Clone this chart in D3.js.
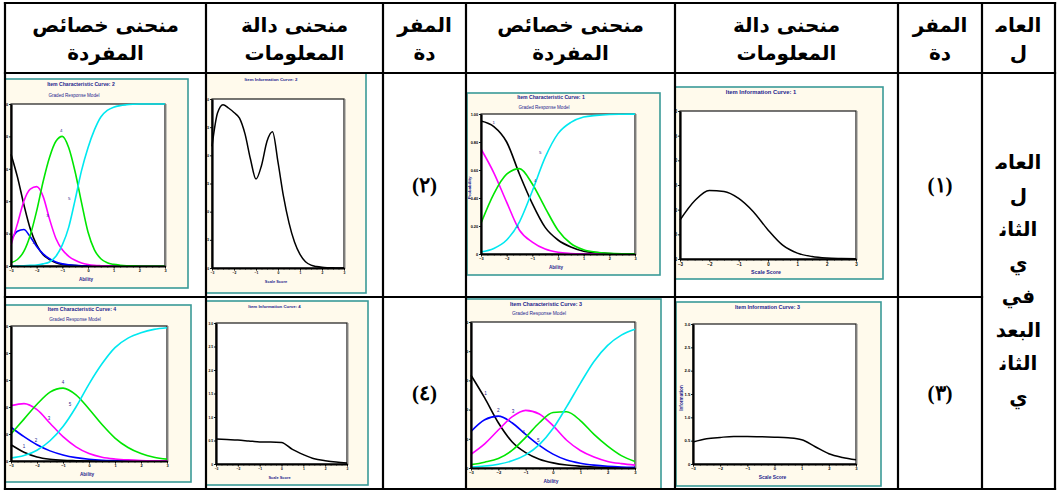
<!DOCTYPE html>
<html>
<head>
<meta charset="utf-8">
<script src="https://cdn.jsdelivr.net/npm/d3@7"></script>
<style>
  body { margin: 0; background: #ffffff; }
  svg { display: block; }
</style>
</head>
<body>
<script>
// ---------- data ----------
const thetaFine   = [-3,-2.75,-2.5,-2.25,-2,-1.75,-1.5,-1.25,-1,-0.75,-0.5,-0.25,0,0.25,0.5,0.75,1,1.25,1.5,1.75,2,2.25,2.5,2.75,3];
const thetaCoarse = [-3,-2.5,-2,-1.5,-1,-0.5,0,0.5,1,1.5,2,2.5,3];

const categories = ["1","2","3","4","5"];

// item 1 — category response probabilities (coarse grid)
const item1Cat1 = [.95,.91,.80,.57,.36,.19,.10,.05,.02,.01,.004,.002,.001];
const item1Cat3 = [.75,.58,.37,.17,.085,.035,.012,.004,.001,0,0,0,0];
const item1Cat4 = [.22,.43,.57,.61,.50,.33,.17,.075,.03,.012,.005,.002,.001];
const item1Cat5 = [.015,.04,.10,.23,.45,.69,.86,.94,.978,.99,.996,.998,.999];

// item 2 (fine grid)
const item2Cat1 = [.69,.55,.38,.23,.13,.07,.04,.02,.01,.006,.003,.001,0,0,0,0,0,0,0,0,0,0,0,0,0];
const item2Cat2 = [.16,.215,.225,.18,.12,.075,.045,.025,.013,.007,.004,.002,.001,0,0,0,0,0,0,0,0,0,0,0,0];
const item2Cat3 = [.13,.26,.40,.475,.49,.43,.29,.17,.10,.06,.035,.018,.009,.004,.002,.001,0,0,0,0,0,0,0,0,0];
const item2Cat4 = [.02,.04,.09,.19,.34,.52,.67,.77,.80,.73,.58,.39,.21,.10,.045,.02,.01,.005,.002,.001,0,0,0,0,0];
const item2Cat5 = [0,0,.002,.004,.006,.013,.025,.06,.13,.24,.41,.59,.73,.84,.92,.96,.98,.99,.995,.998,1,1,1,1,1];

// item 3 (coarse grid)
const item3Cat1 = [.635,.48,.31,.18,.105,.06,.035,.02,.012,.007,.004,.002,.001];
const item3Cat2 = [.25,.33,.355,.31,.23,.155,.095,.055,.033,.02,.012,.007,.004];
const item3Cat3 = [.094,.165,.26,.35,.395,.37,.29,.19,.12,.075,.045,.03,.02];
const item3Cat4 = [.023,.04,.065,.12,.21,.31,.38,.385,.325,.23,.15,.085,.045];
const item3Cat5 = [.007,.0135,.026,.049,.09,.16,.27,.42,.58,.73,.84,.91,.95];

// item 4 (coarse grid)
const item4Cat1 = [.12,.065,.03,.013,.005,.002,0,0,0,0,0,0,0];
const item4Cat2 = [.25,.18,.12,.075,.045,.025,.013,.006,.003,.001,0,0,0];
const item4Cat3 = [.41,.425,.38,.28,.18,.105,.055,.028,.015,.008,.004,.002,.001];
const item4Cat4 = [.20,.31,.42,.51,.54,.49,.385,.27,.17,.10,.055,.028,.014];
const item4Cat5 = [.022,.04,.08,.15,.255,.40,.57,.72,.84,.91,.95,.975,.987];

// item information
const item1Info = [.79,1.18,1.39,1.37,1.23,.96,.59,.28,.12,.05,.02,.01,.005];
const item2Info = [2.16,2.75,2.90,2.84,2.76,2.66,2.38,1.93,1.58,1.82,2.25,2.42,1.88,1.27,.80,.46,.24,.11,.05,.025,.012,.006,.003,.001,0];
const item3Info = [.47,.54,.57,.59,.59,.585,.575,.56,.52,.37,.22,.14,.09];
const item4Info = [.53,.52,.51,.49,.47,.47,.46,.31,.20,.11,.07,.04,.02];

const xTicks     = [-3,-2,-1,0,1,2,3];
const probTicks  = [0,.2,.4,.6,.8,1];
const infoTicks  = [0,.5,1,1.5,2,2.5,3];

// table text
const headerCols = [
  ["منحنى خصائص","المفردة"],
  ["منحنى دالة","المعلومات"],
  ["المفر","دة"],
  ["منحنى خصائص","المفردة"],
  ["منحنى دالة","المعلومات"],
  ["المفر","دة"],
  ["العام\u200D","ل"]
];
const itemLabels = ["(٢)","(٤)","(١)","(٣)"];
const factorLines = ["العام\u200D","ل","الثان\u200D","ي","في","البعد","الثان\u200D","ي"];

// ---------- layout ----------
const W = 1058, H = 491;
const colX = [5, 206, 383, 466, 675, 898, 982, 1055];
const rowY = [3, 73, 297, 489];

const catColor = d3.scaleOrdinal(categories, ["#000000","#0000ff","#ff00ff","#00e600","#00e8f0"]);
const NAVY = "#24248c";
const SANS = "'Liberation Sans', Arial, sans-serif";

const panels = [
  { item: 2, kind: "icc", col: 0, row: 1, theta: thetaFine,
    series: [["1",item2Cat1],["2",item2Cat2],["3",item2Cat3],["4",item2Cat4],["5",item2Cat5]],
    plot: [11,165,104,266], box: [-3,188,79,288], titleY: 84, subY: 95, yTitle: false,
    labels: [["2",4,-3,-3],["3",6,-2,-2],["4",8,-1,-4],["5",10,-6,0]] },
  { item: 2, kind: "info", col: 1, row: 1, theta: thetaFine, info: item2Info,
    plot: [212,344,99,268], box: [195,366,72,293], titleY: 79, yTitle: false },
  { item: 1, kind: "icc", col: 3, row: 1, theta: thetaCoarse,
    series: [["1",item1Cat1],["3",item1Cat3],["4",item1Cat4],["5",item1Cat5]],
    plot: [481,635,114,254], box: [467,660,93,275], titleY: 97, subY: 107, yTitle: true,
    labels: [["1",1,0,-3],["3",3,-2,-2],["4",4,3,-2],["5",5,-5,-3]] },
  { item: 1, kind: "info", col: 4, row: 1, theta: thetaCoarse, info: item1Info,
    plot: [680,856,111,259], box: [663,883,87,279], titleY: 92, yTitle: false },
  { item: 4, kind: "icc", col: 0, row: 2, theta: thetaCoarse,
    series: [["1",item4Cat1],["2",item4Cat2],["3",item4Cat3],["4",item4Cat4],["5",item4Cat5]],
    plot: [11,167,326,461], box: [-3,191,305,482], titleY: 309, subY: 319, yTitle: false,
    labels: [["1",1,0,-4],["2",2,-1,-3],["3",3,-1,-3],["4",4,0,-4],["5",5,-6,-1]] },
  { item: 4, kind: "info", col: 1, row: 2, theta: thetaCoarse, info: item4Info,
    plot: [216,347,323,464], box: [199,368,301,485], titleY: 306, yTitle: false },
  { item: 3, kind: "icc", col: 3, row: 2, theta: thetaCoarse,
    series: [["1",item3Cat1],["2",item3Cat2],["3",item3Cat3],["4",item3Cat4],["5",item3Cat5]],
    plot: [471,635,322,468], box: [457,661,299,489], titleY: 304, subY: 313, yTitle: false,
    labels: [["1",1,1,-3],["2",2,0,-4],["3",3,1,-4],["4",4,-2,-3],["5",5,-1,-3]] },
  { item: 3, kind: "info", col: 4, row: 2, theta: thetaCoarse, info: item3Info,
    plot: [693,856,324,464], box: [676,881,302,486], titleY: 307, yTitle: true }
];

// ---------- drawing ----------
const svg = d3.select("body").append("svg")
  .attr("width", W).attr("height", H)
  .attr("viewBox", `0 0 ${W} ${H}`);

const defs = svg.append("defs");

panels.forEach((p, i) => {
  const cx0 = colX[p.col] + 1, cx1 = colX[p.col + 1] - 1;
  const cy0 = rowY[p.row] + 1, cy1 = rowY[p.row + 1] - 1;
  const clipId = "cell" + i;
  defs.append("clipPath").attr("id", clipId)
    .append("rect").attr("x", cx0).attr("y", cy0).attr("width", cx1 - cx0).attr("height", cy1 - cy0);

  const g = svg.append("g").attr("clip-path", `url(#${clipId})`);
  const [x0, x1, y0, y1] = p.plot;
  const [bx0, bx1, by0, by1] = p.box;
  const k = (x1 - x0) / 154;
  const mid = (x0 + x1) / 2;

  // picture frame
  g.append("rect")
    .attr("x", bx0).attr("y", by0).attr("width", bx1 - bx0).attr("height", by1 - by0)
    .attr("fill", "#fffaec").attr("stroke", "#3a9a98").attr("stroke-width", 1.6);

  // titles
  const title = p.kind === "icc" ? `Item Characteristic Curve: ${p.item}` : `Item Information Curve: ${p.item}`;
  g.append("text").attr("x", mid - 7).attr("y", p.titleY)
    .attr("text-anchor", "middle").attr("dominant-baseline", "central")
    .attr("font-family", SANS).attr("font-weight", "bold").attr("font-size", 5.1 * k)
    .attr("fill", NAVY).text(title);
  if (p.kind === "icc") {
    g.append("text").attr("x", mid - 14).attr("y", p.subY)
      .attr("text-anchor", "middle").attr("dominant-baseline", "central")
      .attr("font-family", SANS).attr("font-size", 4.6 * k)
      .attr("fill", NAVY).text("Graded Response Model");
  }

  // scales
  const x = d3.scaleLinear().domain([-3, 3]).range([x0, x1]);
  const y = d3.scaleLinear().domain(p.kind === "icc" ? [0, 1] : [0, 3]).range([y1, y0]);

  // plot area
  g.append("rect").attr("x", x0).attr("y", y0).attr("width", x1 - x0).attr("height", y1 - y0)
    .attr("fill", "#ffffff").attr("stroke", "#1a1a1a").attr("stroke-width", 1.2);
  g.append("line").attr("x1", x1 + 1).attr("x2", x1 + 1).attr("y1", y0).attr("y2", y1 + 1)
    .attr("stroke", "#8a8a8a").attr("stroke-width", 1);

  // curves
  const line = d3.line()
    .x((d, j) => x(p.theta[j]))
    .y(d => y(d))
    .curve(d3.curveMonotoneX);

  if (p.kind === "icc") {
    p.series.forEach(([cat, vals]) => {
      g.append("path").attr("d", line(vals))
        .attr("fill", "none").attr("stroke", catColor(cat))
        .attr("stroke-width", 1.6).attr("stroke-linejoin", "round");
    });
    const lookup = new Map(p.series);
    p.labels.forEach(([cat, j, dx, dy]) => {
      const vals = lookup.get(cat);
      g.append("text")
        .attr("x", x(p.theta[j]) + dx).attr("y", y(vals[j]) + dy)
        .attr("text-anchor", "middle")
        .attr("font-family", SANS).attr("font-size", 4.4 * k)
        .attr("fill", NAVY).text(cat);
    });
  } else {
    g.append("path").attr("d", line(p.info))
      .attr("fill", "none").attr("stroke", "#000")
      .attr("stroke-width", 1.5).attr("stroke-linejoin", "round");
  }

  // axes
  const minor = d3.range(-3, 3.0001, 0.25);
  g.append("g").attr("transform", `translate(0,${y1})`)
    .call(d3.axisBottom(x).tickValues(minor).tickSize(1.6).tickSizeOuter(0).tickFormat(""))
    .call(a => a.select(".domain").remove())
    .selectAll("line").attr("stroke-width", 0.7);

  const gx = g.append("g").attr("transform", `translate(0,${y1})`)
    .call(d3.axisBottom(x).tickValues(xTicks).tickSize(2.6).tickSizeOuter(0).tickPadding(0.8)
      .tickFormat(d3.format("d")));
  gx.attr("font-family", SANS).attr("font-size", 3.9 * k).attr("font-weight", "bold");
  gx.select(".domain").attr("stroke-width", 2.2);
  gx.selectAll(".tick line").attr("stroke-width", 0.9);

  const yFmt = p.kind === "icc"
    ? (d => d === 0 ? "0" : d3.format(".2f")(d))
    : (d => d === 0 ? "0" : d3.format(".1f")(d));
  const gy = g.append("g").attr("transform", `translate(${x0},0)`)
    .call(d3.axisLeft(y).tickValues(p.kind === "icc" ? probTicks : infoTicks)
      .tickSize(2).tickSizeOuter(0).tickPadding(0.8).tickFormat(yFmt));
  gy.attr("font-family", SANS).attr("font-size", 3.9 * k).attr("font-weight", "bold");
  gy.select(".domain").attr("stroke-width", 2.2);
  gy.selectAll(".tick line").attr("stroke-width", 0.9);

  // axis titles
  g.append("text").attr("x", mid - 2).attr("y", y1 + 13)
    .attr("text-anchor", "middle").attr("dominant-baseline", "central")
    .attr("font-family", SANS).attr("font-weight", "bold").attr("font-size", 4.6 * k)
    .attr("fill", NAVY).text(p.kind === "icc" ? "Ability" : "Scale Score");
  if (p.yTitle) {
    g.append("text")
      .attr("transform", `translate(${x0 - 12},${(y0 + y1) / 2 + 4}) rotate(-90)`)
      .attr("text-anchor", "middle").attr("dominant-baseline", "central")
      .attr("font-family", SANS).attr("font-weight", "bold").attr("font-size", 4.4 * k)
      .attr("fill", NAVY).text(p.kind === "icc" ? "Probability" : "Information");
  }
});

// ---------- table text ----------
const ARFONT = "'DejaVu Sans', 'Liberation Sans', sans-serif";
headerCols.forEach((lines, c) => {
  const cx = (colX[c] + colX[c + 1]) / 2;
  lines.forEach((t, r) => {
    svg.append("text")
      .attr("x", cx).attr("y", r === 0 ? 25 : 53)
      .attr("text-anchor", "middle").attr("dominant-baseline", "central")
      .attr("font-family", ARFONT).attr("font-weight", "bold").attr("font-size", 20)
      .attr("direction", "rtl")
      .attr("fill", "#000").text(t);
  });
});

const labelCells = [[2,1],[2,2],[5,1],[5,2]];
labelCells.forEach(([c, r], i) => {
  svg.append("text")
    .attr("x", (colX[c] + colX[c + 1]) / 2)
    .attr("y", (rowY[r] + rowY[r + 1]) / 2)
    .attr("text-anchor", "middle").attr("dominant-baseline", "central")
    .attr("font-family", "'Liberation Serif', 'DejaVu Serif', serif")
    .attr("font-weight", "bold").attr("font-size", 21)
    .attr("fill", "#000").text(itemLabels[i]);
});

const fx = (colX[6] + colX[7]) / 2;
factorLines.forEach((t, i) => {
  svg.append("text")
    .attr("x", fx).attr("y", 162 + i * 33.5)
    .attr("text-anchor", "middle").attr("dominant-baseline", "central")
    .attr("font-family", ARFONT).attr("font-weight", "bold").attr("font-size", 20)
    .attr("direction", "rtl")
    .attr("fill", "#000").text(t);
});

// ---------- table rules ----------
const rules = svg.append("g").attr("stroke", "#000").attr("stroke-width", 2.2).attr("stroke-linecap", "square");
colX.forEach(xv => rules.append("line").attr("x1", xv).attr("x2", xv).attr("y1", rowY[0]).attr("y2", rowY[3]));
rules.append("line").attr("x1", colX[0]).attr("x2", colX[7]).attr("y1", rowY[0]).attr("y2", rowY[0]);
rules.append("line").attr("x1", colX[0]).attr("x2", colX[7]).attr("y1", rowY[1]).attr("y2", rowY[1]);
rules.append("line").attr("x1", colX[0]).attr("x2", colX[6]).attr("y1", rowY[2]).attr("y2", rowY[2]);
rules.append("line").attr("x1", colX[0]).attr("x2", colX[7]).attr("y1", rowY[3]).attr("y2", rowY[3]);
</script>
</body>
</html>
